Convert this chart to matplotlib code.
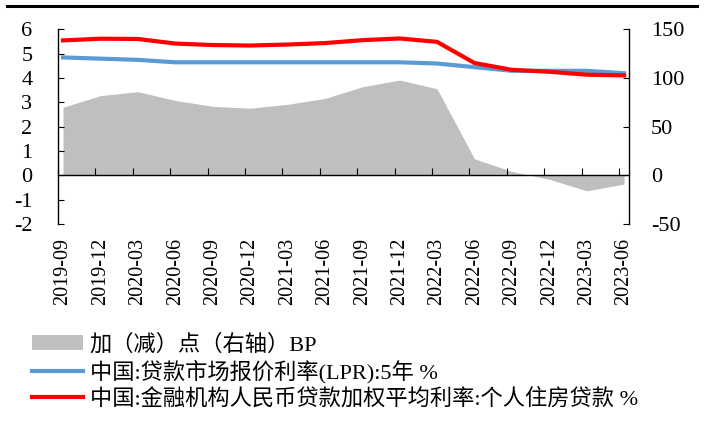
import matplotlib
matplotlib.use('Agg')
import matplotlib.pyplot as plt
from matplotlib.lines import Line2D
from matplotlib.patches import Patch

plt.rcParams['font.family'] = ['Liberation Serif', 'Noto Sans CJK SC']

# Quarterly data
quarters = ['2019-09', '2019-12', '2020-03', '2020-06', '2020-09', '2020-12',
            '2021-03', '2021-06', '2021-09', '2021-12', '2022-03', '2022-06',
            '2022-09', '2022-12', '2023-03', '2023-06']
lpr_5y = [4.85, 4.80, 4.75, 4.65, 4.65, 4.65, 4.65, 4.65, 4.65, 4.65,
          4.60, 4.45, 4.30, 4.30, 4.30, 4.20]
mortgage_rate = [5.55, 5.62, 5.61, 5.42, 5.36, 5.34, 5.38, 5.44, 5.56, 5.63,
                 5.49, 4.62, 4.34, 4.26, 4.14, 4.11]
spread_bp = [70, 82, 86, 77, 71, 69, 73, 79, 91, 98, 89, 17, 4, -4, -16, -9]

label_area = '加（减）点（右轴）BP'
label_lpr = '中国:贷款市场报价利率(LPR):5年 %'
label_mort = '中国:金融机构人民币贷款加权平均利率:个人住房贷款 %'

x = list(range(len(quarters)))

fig = plt.figure(figsize=(7.04, 4.21), dpi=100)
ax = fig.add_axes([0.0824, 0.468, 0.811, 0.462])
ax2 = ax.twinx()

# spread area on the right axis, drawn underneath the rate lines
ax2.fill_between(x, spread_bp, 0, color='#BFBFBF', lw=0)
ax.set_zorder(ax2.get_zorder() + 1)
ax.patch.set_visible(False)

ax.plot(x, lpr_5y, color='#5B9BD5', lw=3)
ax.plot(x, mortgage_rate, color='#FF0000', lw=3)

ax.set_xlim(-0.134, 15.13)
ax.set_ylim(-2, 6)
ax.set_yticks(range(-2, 7))
ax2.set_ylim(-50, 150)
ax2.set_yticks(range(-50, 151, 50))
ax2.set_yticklabels([str(v) for v in range(-50, 151, 50)])
ax.set_yticklabels([str(v) for v in range(-2, 7)])

# horizontal axis line at zero with upward tick marks
ax.spines['bottom'].set_position(('data', 0))
ax.set_xticks([i - 0.134 for i in x])
ax.tick_params(axis='x', direction='in', length=5, width=0.8, labelbottom=False)

for s in ['top', 'right']:
    ax.spines[s].set_visible(False)
for s in ['top', 'left', 'bottom']:
    ax2.spines[s].set_visible(False)
for s in ['left', 'bottom']:
    ax.spines[s].set_linewidth(1.0)
ax2.spines['right'].set_linewidth(1.0)

ax.tick_params(axis='y', direction='in', length=4, width=0.8, pad=18.5, labelsize=16)
ax2.tick_params(axis='y', direction='in', length=4.5, width=0.8, pad=16, labelsize=16)

# date labels below the plot
sec = ax.secondary_xaxis('bottom')
sec.set_xticks(x, quarters)
sec.spines['bottom'].set_visible(False)
sec.tick_params(length=0, pad=10, labelrotation=90, labelsize=14.5)

handles = [Patch(facecolor='#BFBFBF', edgecolor='none'),
           Line2D([], [], color='#5B9BD5', lw=3),
           Line2D([], [], color='#FF0000', lw=3)]
fig.legend(handles, [label_area, label_lpr, label_mort],
           loc='upper left', bbox_to_anchor=(0.045, 0.207), frameon=False,
           fontsize=16, handlelength=2.3, handletextpad=0.32,
           labelspacing=0.22, borderaxespad=0, borderpad=0)

fig.add_artist(Line2D([0.01, 0.99], [0.9857, 0.9857], color='black', lw=2.2,
                      transform=fig.transFigure))

fig.savefig('out.png', dpi=100)
